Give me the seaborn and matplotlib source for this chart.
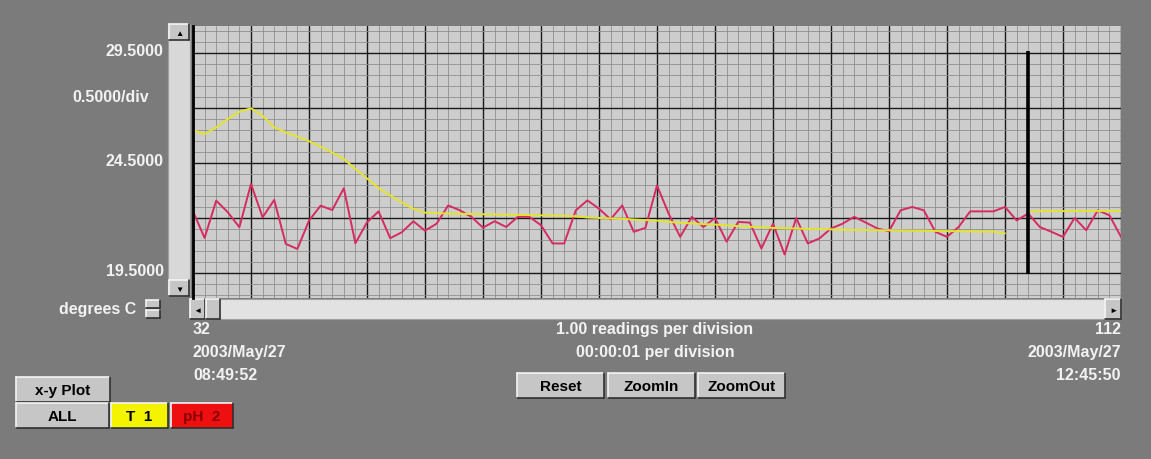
import numpy as np
import pandas as pd
import matplotlib
matplotlib.use("Agg")
import matplotlib.pyplot as plt
import matplotlib.transforms as mtransforms
from matplotlib.patches import Rectangle
import seaborn as sns

# readings shown on the screen (32 .. 112, one per minor division)
readings = list(range(32, 113))

# pH 2 trace (red)
ph_values = [22.30, 21.09, 22.79, 22.26, 21.58, 23.55, 22.03, 22.82, 20.82, 20.59,
             21.88, 22.56, 22.36, 23.35, 20.85, 21.80, 22.30, 21.08, 21.35, 21.85,
             21.42, 21.74, 22.57, 22.35, 22.05, 21.56, 21.85, 21.59, 22.05, 22.05,
             21.67, 20.84, 20.84, 22.35, 22.80, 22.42, 21.94, 22.57, 21.37, 21.55,
             23.48, 22.20, 21.14, 22.05, 21.59, 22.00, 20.92, 21.82, 21.79, 20.61,
             21.74, 20.34, 22.00, 20.84, 21.07, 21.52, 21.74, 22.05, 21.79, 21.52,
             21.40, 22.35, 22.50, 22.35, 21.37, 21.14, 21.59, 22.30, 22.30, 22.30,
             22.50, 21.89, 22.20, 21.59, 21.37, 21.14, 22.00, 21.44, 22.35, 22.12,
             21.14]

# T 1 trace (yellow), gap at the cursor
temp_values = [26.00, 25.82, 26.12, 26.50, 26.83, 26.99, 26.65, 26.12, 25.89, 25.70,
               25.49, 25.24, 24.98, 24.68, 24.23, 23.80, 23.36, 23.02, 22.71, 22.41,
               22.24, 22.22, 22.20, 22.19, 22.18, 22.17, 22.16, 22.15, 22.14, 22.13,
               22.12, 22.11, 22.10, 22.08, 22.02, 22.00, 21.98, 21.96, 21.93, 21.90,
               21.88, 21.82, 21.78, 21.75, 21.72, 21.70, 21.66, 21.63, 21.60, 21.58,
               21.55, 21.53, 21.52, 21.50, 21.50, 21.48, 21.47, 21.46, 21.45, 21.44,
               21.44, 21.43, 21.42, 21.42, 21.41, 21.40, 21.40, 21.39, 21.38, 21.38,
               21.30, np.nan, 22.30, 22.31, 22.31, 22.31, 22.32, 22.32, 22.32, 22.32,
               22.32]

cursor_reading = 104
y_major = [19.5, 22.0, 24.5, 27.0, 29.5]
y_labels = ["19.5000", "", "24.5000", "", "29.5000"]

df = pd.DataFrame({"reading": readings, "ph": ph_values, "temp": temp_values})
df["segment"] = (df["reading"] > cursor_reading - 1).astype(int)

W, H = 1151, 460
BG = "#7b7b7b"
TXT = "#f2f2f2"
FS = 11.5

sns.set_style("white")
plt.rcParams["font.family"] = ["Liberation Sans", "DejaVu Sans"]
plt.rcParams["font.weight"] = "bold"

fig = plt.figure(figsize=(W / 100, H / 100), dpi=100)
fig.patch.set_facecolor(BG)

# overlay in pixel coordinates for the window widgets
ui = fig.add_axes([0, 0, 1, 1], zorder=0)
ui.set_xlim(0, W)
ui.set_ylim(H, 0)
ui.axis("off")


def button(x0, y0, x1, y1, label, face="#c6c6c6", color="black", size=11):
    ui.add_patch(Rectangle((x0, y0), x1 - x0, y1 - y0, facecolor=face, edgecolor="none"))
    ui.plot([x0, x1], [y0, y0], color="#f4f4f4", lw=1.2)
    ui.plot([x0, x0], [y0, y1], color="#f4f4f4", lw=1.2)
    ui.plot([x0, x1], [y1, y1], color="#303030", lw=1.2)
    ui.plot([x1, x1], [y0, y1], color="#303030", lw=1.2)
    ui.text((x0 + x1) / 2, (y0 + y1) / 2 + 1, label, ha="center", va="center",
            color=color, fontsize=size, fontweight="bold")


# vertical scrollbar
ui.add_patch(Rectangle((168, 25), 22, 272, facecolor="#d8d8d8", edgecolor="#a0a0a0", lw=0.8))
button(169, 25, 189, 41, "\u25b2", size=6)
button(169, 281, 189, 297, "\u25bc", size=6)
# horizontal scrollbar
ui.add_patch(Rectangle((190, 300), 931, 20, facecolor="#e2e2e2", edgecolor="#a0a0a0", lw=0.8))
button(190, 300, 205, 320, "\u25c4", size=6)
button(206, 300, 220, 320, "")
button(1105, 300, 1121, 320, "\u25ba", size=6)
# unit spinner
button(146, 301, 160, 309, "", size=5)
button(146, 311, 160, 319, "", size=5)

ui.text(149, 97, "0.5000/div", ha="right", va="center", color=TXT, fontsize=FS)
ui.text(136, 310, "degrees C", ha="right", va="center", color=TXT, fontsize=FS)

ui.text(193, 330, "32", ha="left", va="center", color=TXT, fontsize=FS)
ui.text(655, 330, "1.00 readings per division", ha="center", va="center", color=TXT, fontsize=FS)
ui.text(1121, 330, "112", ha="right", va="center", color=TXT, fontsize=FS)
ui.text(193, 353, "2003/May/27", ha="left", va="center", color=TXT, fontsize=FS)
ui.text(655, 353, "00:00:01 per division", ha="center", va="center", color=TXT, fontsize=FS)
ui.text(1121, 353, "2003/May/27", ha="right", va="center", color=TXT, fontsize=FS)
ui.text(193, 376, "08:49:52", ha="left", va="center", color=TXT, fontsize=FS)
ui.text(1121, 376, "12:45:50", ha="right", va="center", color=TXT, fontsize=FS)

button(517, 374, 604, 399, "Reset")
button(608, 374, 695, 399, "ZoomIn")
button(698, 374, 785, 399, "ZoomOut")
button(16, 378, 110, 403, "x-y Plot")
button(16, 404, 109, 429, "ALL")
button(111, 404, 168, 429, "T  1", face="#f4f400")
button(171, 404, 233, 429, "pH  2", face="#ee1010", color="#8a0000")

# main chart
ax = fig.add_axes([193 / W, (H - 299) / H, 928 / W, 272 / H], zorder=2)
ax.set_facecolor("#cdcdcd")

sns.lineplot(data=df, x="reading", y="ph", ax=ax, color="#d62b5e", lw=1.4)
for seg, part in df.groupby("segment"):
    sns.lineplot(data=part.dropna(), x="reading", y="temp", ax=ax, color="#e4e42c", lw=1.4)

ax.vlines(cursor_reading, 19.45, 29.6, color="black", lw=2.6, zorder=5)

ax.set_xlim(32, 112)
ax.set_ylim(18.36, 30.73)
ax.set_xticks(np.arange(32, 113, 5))
ax.set_xticks(np.arange(32, 113, 1), minor=True)
ax.set_yticks(y_major)
ax.set_yticks(np.arange(18.5, 30.6, 0.5), minor=True)
ax.set_yticklabels(y_labels)
ax.set_xticklabels([])
ax.grid(which="minor", color="#8e8e8e", lw=0.6)
ax.grid(which="major", color="#1a1a1a", lw=1.0)
ax.set_axisbelow(True)
ax.tick_params(axis="both", which="both", length=0)
ax.tick_params(axis="y", pad=21, labelsize=FS, labelcolor=TXT)
ax.set_xlabel("")
ax.set_ylabel("")
for side in ["top", "right", "bottom"]:
    ax.spines[side].set_visible(False)
ax.spines["left"].set_color("black")
ax.spines["left"].set_linewidth(2)
# the screen draws the scale labels a few pixels above their grid lines
lift = mtransforms.ScaledTranslation(0, 4 / 100, fig.dpi_scale_trans)
for lab in ax.get_yticklabels():
    lab.set_fontweight("bold")
    lab.set_transform(lab.get_transform() + lift)
legend = ax.get_legend()
if legend:
    legend.remove()

fig.savefig("out.png", dpi=100, facecolor=BG)
